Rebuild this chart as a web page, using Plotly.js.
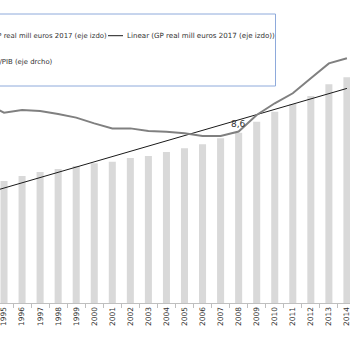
<!DOCTYPE html>
<html>
<head>
<meta charset="utf-8">
<script src="https://cdn.plot.ly/plotly-3.0.1.min.js"></script>
<style>
html,body{margin:0;padding:0;background:#fff;overflow:hidden;}
#chart{width:350px;height:350px;}
</style>
</head>
<body>
<div id="chart"></div>
<script>
// Categories (years); 1994 lies just off the left edge of the crop
var years = ['1994','1995','1996','1997','1998','1999','2000','2001','2002','2003','2004',
             '2005','2006','2007','2008','2009','2010','2011','2012','2013','2014'];
// GP real mill euros 2017 (left axis) - bars
var gpReal = [null,244000,254000,262000,268000,274000,279400,282600,290000,294000,302000,
              309400,317400,329400,340600,362600,382600,398000,414000,437400,451400];
// GP/PIB (right axis) - grey line
var gpPib = [10.0,9.55,9.68,9.63,9.48,9.30,9.01,8.76,8.76,8.63,8.59,
             8.51,8.38,8.38,8.6,9.43,10.02,10.52,11.27,12.02,12.28];
// Linear trendline of GP real (end points)
var trendYears = ['1994','2014'];
var trendValues = [219400,429200];
// Texts
var nameBars = 'GP real mill euros 2017 (eje izdo)';
var nameTrend = 'Linear (GP real mill euros 2017 (eje izdo))';
var nameRatio = 'GP/PIB (eje drcho)';
var labelYear = '2008';
var labelText = '8,6';

var W = 350, H = 350, mb = 47, ph = H - mb;
function px(x){ return x / W; }
function py(y){ return (ph - y) / ph; }

var font = 'DejaVu Sans, sans-serif';
var txtCol = '#333333';

var traces = [
  {type:'bar', x:years, y:gpReal, name:nameBars, marker:{color:'#d9d9d9'}, yaxis:'y', hoverinfo:'none'},
  {type:'scatter', mode:'lines', x:trendYears, y:trendValues, name:nameTrend,
   line:{color:'#1a1a1a', width:1}, yaxis:'y', hoverinfo:'none'},
  {type:'scatter', mode:'lines', x:years, y:gpPib, name:nameRatio,
   line:{color:'#808080', width:2}, yaxis:'y2', hoverinfo:'none'}
];

var hiddenAxis = {showticklabels:false, ticks:'', showline:false, showgrid:false, zeroline:false, fixedrange:true};
var rowY1 = 35.7, rowY2 = 62.3;
var labelIdx = years.indexOf(labelYear);
var layout = {
  width: W, height: H,
  margin: {l:0, r:0, t:0, b:mb, pad:0, autoexpand:false},
  paper_bgcolor:'#ffffff', plot_bgcolor:'#ffffff',
  showlegend:false,
  bargap: 0.61,
  xaxis: {
    type:'category', categoryorder:'array', categoryarray:years,
    range:[0.778, 20.17],
    showline:true, linecolor:'#bfbfbf', linewidth:1,
    ticks:'outside', tickson:'boundaries', ticklen:4, tickcolor:'#bfbfbf', tickwidth:1,
    tickangle:-90, tickfont:{family:font, size:7.5, color:txtCol},
    showgrid:false, zeroline:false, fixedrange:true
  },
  yaxis: Object.assign({range:[0,606000]}, hiddenAxis),
  yaxis2: Object.assign({range:[0,15.2], overlaying:'y', side:'right'}, hiddenAxis),
  shapes: [
    {type:'rect', xref:'paper', yref:'paper', x0:-0.3, x1:px(275.5), y0:py(86), y1:py(14),
     line:{color:'#8eaadb', width:1}, fillcolor:'#ffffff', layer:'above'},
    {type:'line', xref:'paper', yref:'paper', x0:px(108), x1:px(123), y0:py(rowY1), y1:py(rowY1),
     line:{color:'#1a1a1a', width:1}, layer:'above'}
  ],
  annotations: [
    {xref:'paper', yref:'paper', x:px(107.5), y:py(rowY1), xanchor:'right', yanchor:'middle',
     text:nameBars, showarrow:false, font:{family:font, size:6.9, color:txtCol}, borderpad:0},
    {xref:'paper', yref:'paper', x:px(125.5), y:py(rowY1), xanchor:'left', yanchor:'middle',
     text:nameTrend, showarrow:false, font:{family:font, size:7.1, color:txtCol}, borderpad:0},
    {xref:'paper', yref:'paper', x:px(54), y:py(rowY2), xanchor:'right', yanchor:'middle',
     text:nameRatio, showarrow:false, font:{family:font, size:6.9, color:txtCol}, borderpad:0},
    {xref:'x', yref:'y2', x:labelIdx, y:gpPib[labelIdx], yshift:8,
     xanchor:'center', yanchor:'middle', text:labelText, showarrow:false,
     font:{family:font, size:9, color:txtCol}, borderpad:0}
  ]
};

Plotly.newPlot('chart', traces, layout, {displayModeBar:false, staticPlot:true});
</script>
</body>
</html>
